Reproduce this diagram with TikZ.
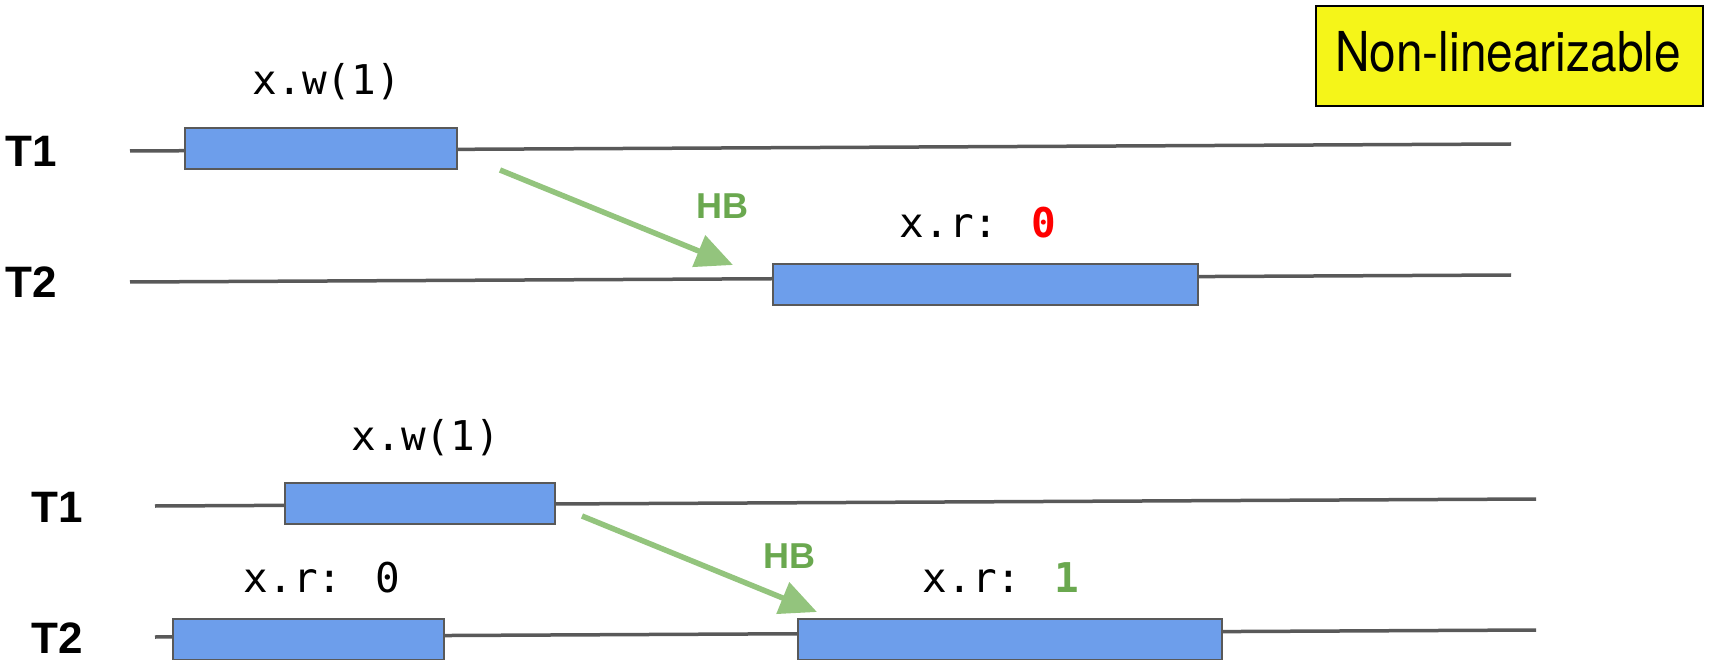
\documentclass[tikz,border=0pt]{standalone}
\usepackage{fontspec}
\usepackage{graphicx}
\setmainfont{TeX Gyre Heros}
\newfontfamily\monofont{DejaVu Sans Mono}
\newfontfamily\labfont{Liberation Sans}
\usetikzlibrary{arrows.meta,calc}
\definecolor{boxblue}{HTML}{6D9EEB}
\definecolor{linegray}{HTML}{595959}
\definecolor{arrowgreen}{HTML}{93C47D}
\definecolor{hbgreen}{HTML}{6AA84F}
\definecolor{notered}{HTML}{FF0000}
\definecolor{tagyellow}{RGB}{245,245,25}
\tikzset{
  opbox/.style={draw=linegray, line width=2pt, fill=boxblue, rectangle, inner sep=0pt, anchor=north west, minimum height=41pt},
  timeline/.style={draw=linegray, line width=3.5pt},
  hbarrow/.style={draw=arrowgreen, line width=5.5pt, -{Triangle[length=37pt,width=33pt]}},
  tlabel/.style={anchor=base west, inner sep=0pt, font=\labfont\bfseries\fontsize{44}{50}\selectfont},
  oplabel/.style={anchor=base, inner sep=0pt, font=\monofont\fontsize{41}{50}\selectfont},
  hblabel/.style={anchor=base west, inner sep=0pt, text=hbgreen, font=\labfont\bfseries\fontsize{36}{42}\selectfont}
}
\begin{document}
\begin{tikzpicture}[x=1pt,y=-1pt]
\useasboundingbox (0,0) rectangle (1710,660);

% ---------- top scenario ----------
\coordinate (ta1s) at (130,151);
\coordinate (ta1e) at (1511,144);
\coordinate (ta2s) at (130,282);
\coordinate (ta2e) at (1511,275);
\draw[timeline] (ta1s) -- (ta1e);
\draw[timeline] (ta2s) -- (ta2e);

\node[tlabel] (T1a) at (5,167) {T1};
\node[tlabel] (T2a) at (5,298) {T2};

\node[opbox, minimum width=272pt] (w1a) at (184,127) {};
\node[opbox, minimum width=425pt] (r0a) at (772,263) {};

\node[oplabel] (w1alab) at (327,95) {x.w(1)};
\node[oplabel] (r0alab) at (978,238) {x.r: \textcolor{notered}{\bfseries 0}};

\coordinate (hba-s) at ($(w1a.south east)+(42,0)$);
\coordinate (hba-e) at ($(r0a.north west)+(-39,2)$);
\draw[hbarrow] (hba-s) -- (hba-e);
\node[hblabel] (hba) at (696,219) {HB};

% ---------- label ----------
\node[draw=black, line width=2pt, fill=tagyellow, rectangle, inner sep=0pt,
      minimum width=387pt, minimum height=100pt, anchor=north west] (tag) at (1315,5) {};
\node[inner sep=0pt, anchor=base, font=\fontsize{55}{60}\selectfont] (tagtext) at (1508,72)
  {\scalebox{0.87}[1]{Non-linearizable}};

% ---------- bottom scenario ----------
\coordinate (tb1s) at (155,506);
\coordinate (tb1e) at (1536,499);
\coordinate (tb2s) at (155,637);
\coordinate (tb2e) at (1536,630);
\draw[timeline] (tb1s) -- (tb1e);
\draw[timeline] (tb2s) -- (tb2e);

\node[tlabel] (T1b) at (31,522) {T1};
\node[tlabel] (T2b) at (31,653) {T2};

\node[opbox, minimum width=270pt] (w1b) at (284,482) {};
\node[opbox, minimum width=271pt] (r0b) at (172,618) {};
\node[opbox, minimum width=424pt] (r1b) at (797,618) {};

\node[oplabel] (w1blab) at (426,450) {x.w(1)};
\node[oplabel] (r0blab) at (322,592) {x.r: 0};
\node[oplabel] (r1blab) at (1001,592) {x.r: \textcolor{hbgreen}{\bfseries 1}};

\coordinate (hbb-s) at ($(w1b.south east)+(26,-9)$);
\coordinate (hbb-e) at ($(r1b.north west)+(20,-6)$);
\draw[hbarrow] (hbb-s) -- (hbb-e);
\node[hblabel] (hbb) at (763,568) {HB};
\end{tikzpicture}
\end{document}
